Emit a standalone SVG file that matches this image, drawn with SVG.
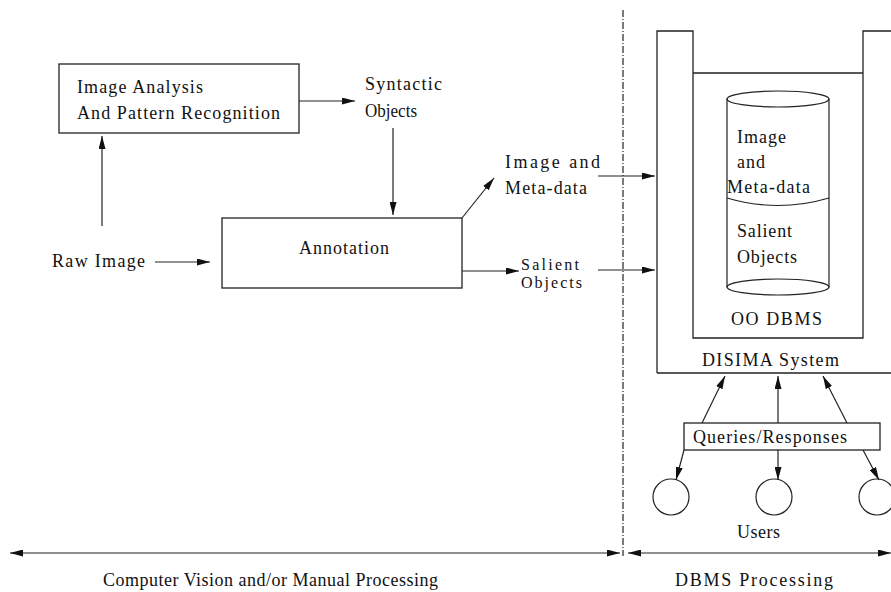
<svg xmlns="http://www.w3.org/2000/svg" width="891" height="592" viewBox="0 0 891 592" font-family="Liberation Serif, Times New Roman, Noto Serif, DejaVu Serif, serif">
<style>
  .box { fill: none; stroke: #222; stroke-width: 1.3; }
  .ln { fill: none; stroke: #222; stroke-width: 1.2; }
  .arr { fill: none; stroke: #222; stroke-width: 1.2; marker-end: url(#ah); }
  .dbl { fill: none; stroke: #222; stroke-width: 1.2; marker-start: url(#ah); marker-end: url(#ah); }
  text { font-size: 18px; fill: #111; }
  .sm { font-size: 16px; }
</style>
<defs>
  <marker id="ah" viewBox="0 0 13 7" refX="13" refY="3.5" markerWidth="13" markerHeight="7" orient="auto-start-reverse" markerUnits="userSpaceOnUse">
    <path d="M0,0 L13,3.5 L0,7 z" fill="#111"/>
  </marker>
</defs>
<rect width="891" height="592" fill="#fff"/>

<g id="image-analysis">
  <rect class="box" x="59" y="64" width="240" height="69"/>
  <text x="77" y="93" textLength="126" lengthAdjust="spacing">Image Analysis</text>
  <text x="77" y="119" textLength="203" lengthAdjust="spacing">And Pattern Recognition</text>
</g>
<g id="syntactic-objects">
  <text x="365" y="90" textLength="77" lengthAdjust="spacing">Syntactic</text>
  <text x="365" y="117" textLength="52" lengthAdjust="spacingAndGlyphs">Objects</text>
</g>
<g id="raw-image">
  <text x="52" y="267" textLength="93" lengthAdjust="spacing">Raw Image</text>
</g>
<g id="annotation">
  <rect class="box" x="222" y="218" width="240" height="70"/>
  <text x="299" y="254" textLength="90" lengthAdjust="spacing">Annotation</text>
</g>
<g id="image-meta">
  <text x="505" y="168" textLength="95" lengthAdjust="spacing">Image  and</text>
  <text x="505" y="194" textLength="82" lengthAdjust="spacing">Meta-data</text>
</g>
<g id="salient-objects">
  <text class="sm" x="521" y="270" textLength="58" lengthAdjust="spacing">Salient</text>
  <text class="sm" x="521" y="288" textLength="61" lengthAdjust="spacing">Objects</text>
</g>

<g id="disima-system">
  <path class="box" d="M657,373 V31 H693 V338 H863 V31 H895 M657,373 H895 M693,73 H863"/>
  <text x="702" y="366" textLength="137" lengthAdjust="spacing">DISIMA System</text>
</g>
<g id="oo-dbms">
  <text x="731" y="325" textLength="91" lengthAdjust="spacing">OO DBMS</text>
</g>
<g id="database">
  <path class="ln" d="M727,99 V287 M829,99 V287"/>
  <ellipse class="ln" cx="778" cy="99" rx="51" ry="8"/>
  <ellipse class="ln" cx="778" cy="287" rx="51" ry="8"/>
  <path class="ln" d="M727,198 Q778,213 829,198"/>
  <text x="737" y="143" textLength="49" lengthAdjust="spacing">Image</text>
  <text x="737" y="168" textLength="28" lengthAdjust="spacing">and</text>
  <text x="727" y="193" textLength="83" lengthAdjust="spacing">Meta-data</text>
  <text x="737" y="237" textLength="55" lengthAdjust="spacing">Salient</text>
  <text x="737" y="263" textLength="60" lengthAdjust="spacing">Objects</text>
</g>
<g id="queries-responses">
  <rect class="box" x="684" y="423" width="196" height="27"/>
  <text x="693" y="443" textLength="154" lengthAdjust="spacing">Queries/Responses</text>
</g>
<g id="users">
  <circle class="ln" cx="671" cy="497" r="18"/>
  <circle class="ln" cx="774" cy="497" r="18"/>
  <circle class="ln" cx="877" cy="497" r="18"/>
  <text x="737" y="538" textLength="43" lengthAdjust="spacing">Users</text>
</g>
<g id="labels">
  <text x="103" y="586" textLength="335" lengthAdjust="spacing">Computer Vision and/or Manual Processing</text>
  <text x="675" y="586" textLength="158" lengthAdjust="spacing">DBMS Processing</text>
</g>

<g id="connectors">
  <line class="arr" x1="299" y1="101" x2="355" y2="101"/>
  <line class="arr" x1="393" y1="128" x2="393" y2="215"/>
  <line class="arr" x1="102" y1="226" x2="102" y2="136"/>
  <line class="arr" x1="155" y1="262" x2="210" y2="262"/>
  <line class="arr" x1="462" y1="218" x2="494" y2="178"/>
  <line class="arr" x1="462" y1="271" x2="519" y2="271"/>
  <line class="arr" x1="598" y1="176" x2="655" y2="176"/>
  <line class="arr" x1="598" y1="270" x2="655" y2="270"/>
  <line class="arr" x1="702" y1="423" x2="725" y2="376"/>
  <line class="arr" x1="778" y1="423" x2="778" y2="376"/>
  <line class="arr" x1="847" y1="423" x2="823" y2="376"/>
  <line class="arr" x1="684" y1="450" x2="676" y2="480"/>
  <line class="arr" x1="778" y1="450" x2="778" y2="480"/>
  <line class="arr" x1="863" y1="450" x2="879" y2="480"/>
  <line class="dbl" x1="10" y1="553" x2="620" y2="553"/>
  <line class="dbl" x1="628" y1="553" x2="891" y2="553"/>
  <line class="ln" x1="623" y1="10" x2="623" y2="556" stroke-dasharray="7 2 1 2" stroke-width="1"/>
</g>
</svg>
